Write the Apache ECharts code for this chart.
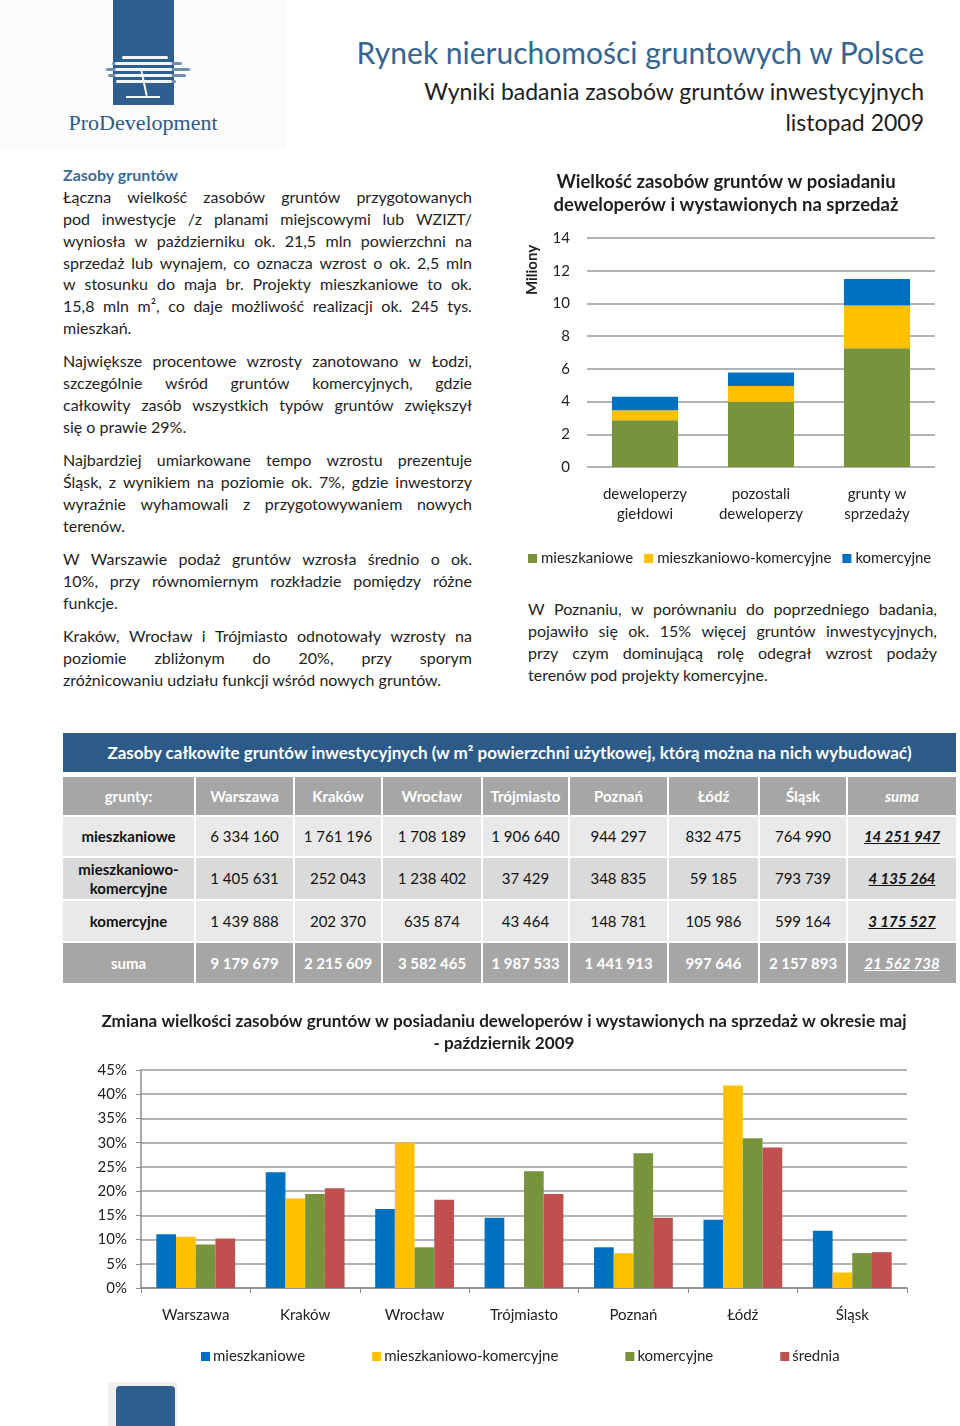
<!DOCTYPE html>
<html><head><meta charset="utf-8">
<script src="https://cdn.jsdelivr.net/npm/echarts/dist/echarts.min.js"></script>
<style>
body{margin:0;width:960px;height:1426px;position:relative;background:#fff;font-family:Lato,'Open Sans',sans-serif;overflow:hidden;color:#1e1e1e}
.abs{position:absolute}
.ln{position:absolute;height:22px;line-height:22px;font-size:16px;white-space:nowrap;color:#1e1e1e}
.jl{display:flex;justify-content:space-between}
.cell{position:absolute;display:flex;align-items:center;justify-content:center;text-align:center;font-size:15px;line-height:19px;white-space:pre}
</style></head><body>
<div class="abs" style="left:0;top:0;width:286px;height:150px;background:#fbfbfb"></div>
<div id="logo"></div>
<div class="abs" style="right:36px;top:32px;font-size:30px;line-height:40px;color:#35658f;white-space:nowrap">Rynek nieruchomości gruntowych w Polsce</div>
<div class="abs" style="right:36px;top:75px;font-size:23px;line-height:32px;color:#1e1e1e;white-space:nowrap">Wyniki badania zasobów gruntów inwestycyjnych</div>
<div class="abs" style="right:36px;top:106px;font-size:23px;line-height:32px;color:#1e1e1e;white-space:nowrap">listopad 2009</div>
<div id="texts"></div>
<div id="table"></div>
<div id="chart1" class="abs" style="left:520px;top:160px;width:440px;height:420px"></div>
<div id="chart2" class="abs" style="left:60px;top:1000px;width:900px;height:380px"></div>
<div class="abs" style="left:108px;top:1382px;width:69px;height:44px;background:#f0f0f0"></div>
<div class="abs" style="left:116px;top:1386px;width:59px;height:44px;background:#2e5f8e;border-radius:4px"></div>
<script>
// ---------- data ----------
const stackCategories = ['deweloperzy\ngiełdowi', 'pozostali\ndeweloperzy', 'grunty w\nsprzedaży'];
const stackMieszkaniowe = [2.86, 3.99, 7.26];
const stackMieszkKomerc = [0.61, 0.96, 2.61];
const stackKomercyjne = [0.82, 0.83, 1.62];

const cities = ['Warszawa', 'Kraków', 'Wrocław', 'Trójmiasto', 'Poznań', 'Łódź', 'Śląsk'];
const changeMieszkaniowe = [11.1, 23.9, 16.3, 14.5, 8.4, 14.1, 11.8];
const changeMieszkKomerc = [10.6, 18.5, 30.0, 0, 7.2, 41.8, 3.2];
const changeKomercyjne = [9.0, 19.4, 8.4, 24.1, 27.8, 30.9, 7.2];
const changeSrednia = [10.2, 20.6, 18.2, 19.4, 14.5, 29.0, 7.4];

const tableTitle = 'Zasoby całkowite gruntów inwestycyjnych (w m² powierzchni użytkowej, którą można na nich wybudować)';
const tableHeaders = ['grunty:', 'Warszawa', 'Kraków', 'Wrocław', 'Trójmiasto', 'Poznań', 'Łódź', 'Śląsk', 'suma'];
const tableRowLabels = ['mieszkaniowe', 'mieszkaniowo-\nkomercyjne', 'komercyjne', 'suma'];
const tableMieszkaniowe = ['6 334 160', '1 761 196', '1 708 189', '1 906 640', '944 297', '832 475', '764 990', '14 251 947'];
const tableMieszkKomerc = ['1 405 631', '252 043', '1 238 402', '37 429', '348 835', '59 185', '793 739', '4 135 264'];
const tableKomercyjne = ['1 439 888', '202 370', '635 874', '43 464', '148 781', '105 986', '599 164', '3 175 527'];
const tableSuma = ['9 179 679', '2 215 609', '3 582 465', '1 987 533', '1 441 913', '997 646', '2 157 893', '21 562 738'];

const leftParagraphs = [
  ['Łączna wielkość zasobów gruntów przygotowanych',
   'pod inwestycje /z planami miejscowymi lub WZIZT/',
   'wyniosła w październiku ok. 21,5 mln powierzchni na',
   'sprzedaż lub wynajem, co oznacza wzrost o ok. 2,5 mln',
   'w stosunku do maja br. Projekty mieszkaniowe to ok.',
   '15,8 mln m², co daje możliwość realizacji ok. 245 tys.',
   'mieszkań.'],
  ['Największe procentowe wzrosty zanotowano w Łodzi,',
   'szczególnie wśród gruntów komercyjnych, gdzie',
   'całkowity zasób wszystkich typów gruntów zwiększył',
   'się o prawie 29%.'],
  ['Najbardziej umiarkowane tempo wzrostu prezentuje',
   'Śląsk, z wynikiem na poziomie ok. 7%, gdzie inwestorzy',
   'wyraźnie wyhamowali z przygotowywaniem nowych',
   'terenów.'],
  ['W Warszawie podaż gruntów wzrosła średnio o ok.',
   '10%, przy równomiernym rozkładzie pomiędzy różne',
   'funkcje.'],
  ['Kraków, Wrocław i Trójmiasto odnotowały wzrosty na',
   'poziomie zbliżonym do 20%, przy sporym',
   'zróżnicowaniu udziału funkcji wśród nowych gruntów.']
];
const leftParagraphTops = [197, 361, 460, 559, 636];
const rightParagraph = ['W Poznaniu, w porównaniu do poprzedniego badania,',
  'pojawiło się ok. 15% więcej gruntów inwestycyjnych,',
  'przy czym dominującą rolę odegrał wzrost podaży',
  'terenów pod projekty komercyjne.'];

// ---------- logo ----------
(function(){
  const L = document.getElementById('logo');
  let h = '<div class="abs" style="left:113px;top:0;width:61px;height:105px;background:#2e5f8e"></div>';
  const stripes = [[56,122,168],[62,112,182],[68,106,190],[74,108,186],[80,116,176]];
  stripes.forEach(s=>{
    h += `<div class="abs" style="left:${s[1]}px;top:${s[0]}px;width:${s[2]-s[1]}px;height:3px;border-radius:2px;background:#6f8fb0"></div>`;
    h += `<div class="abs" style="left:${Math.max(s[1],115)}px;top:${s[0]}px;width:${Math.min(s[2],172)-Math.max(s[1],115)}px;height:3px;border-radius:2px;background:#f2f5f8"></div>`;
  });
  h += '<div class="abs" style="left:143px;top:70px;width:2px;height:26px;background:#f2f5f8;transform:rotate(-12deg)"></div>';
  h += '<div class="abs" style="left:126px;top:96px;width:34px;height:2px;background:#f2f5f8"></div>';
  h += '<div class="abs" style="left:62px;top:108px;width:162px;text-align:center;font-family:\'Liberation Serif\',serif;font-size:22px;line-height:30px;color:#2e5a86;white-space:nowrap">ProDevelopment</div>';
  L.innerHTML = h;
})();

// ---------- paragraphs ----------
function esc(s){return s.replace(/&/g,'&amp;').replace(/</g,'&lt;');}
function para(lines, x, w, yFirst, step){
  let h='';
  lines.forEach((t,i)=>{
    const top = yFirst + i*step - 11;
    const last = i===lines.length-1;
    if(last){
      h += `<div class="ln" style="left:${x}px;top:${top}px;">${esc(t)}</div>`;
    } else {
      h += `<div class="ln jl" style="left:${x}px;top:${top}px;width:${w}px">` + t.split(' ').map(wd=>`<span>${esc(wd)}</span>`).join('') + '</div>';
    }
  });
  return h;
}
(function(){
  let h = '<div class="ln" style="left:63px;top:164px;font-weight:700;color:#3b6b9b">Zasoby gruntów</div>';
  leftParagraphs.forEach((p,i)=>{ h += para(p, 63, 409, leftParagraphTops[i], 21.85); });
  h += para(rightParagraph, 528, 409, 609, 22);
  document.getElementById('texts').innerHTML = h;
})();

// ---------- table ----------
(function(){
  const colX = [63,196,295,383,483,570,669,760,848,958];
  const rowsY = [[777,815],[817,856],[858,899],[901,941],[943,983]];
  let h = `<div class="cell" style="left:63px;top:733px;width:893px;height:39px;background:#2d5b88;color:#fff;font-weight:700;font-size:17px">${tableTitle}</div>`;
  const rowBg = ['#a6a6a6','#e9e9e9','#dadada','#e9e9e9','#a6a6a6'];
  const dataRows = [tableMieszkaniowe, tableMieszkKomerc, tableKomercyjne, tableSuma];
  for(let r=0;r<5;r++){
    for(let c=0;c<9;c++){
      const x0=colX[c], x1=colX[c+1]-2;
      const y0=rowsY[r][0], y1=rowsY[r][1];
      let txt, st='';
      const white = (r===0||r===4);
      if(r===0){ txt = tableHeaders[c]; st='font-weight:700;'; if(c===8) st+='font-style:italic;'; }
      else if(c===0){ txt = tableRowLabels[r-1]; st='font-weight:700;'; }
      else { txt = dataRows[r-1][c-1]; if(r===4) st='font-weight:700;'; if(c===8) st='font-weight:700;font-style:italic;text-decoration:underline;'; }
      st += 'color:' + (white?'#fff':'#111') + ';';
      h += `<div class="cell" style="left:${x0}px;top:${y0}px;width:${x1-x0}px;height:${y1-y0}px;background:${rowBg[r]};${st}">${esc(txt)}</div>`;
    }
  }
  document.getElementById('table').innerHTML = h;
})();

// ---------- chart 1 ----------
const C_GREEN='#77933c', C_YELLOW='#ffc000', C_BLUE='#0070c0', C_RED='#c0504d';
const ch1 = echarts.init(document.getElementById('chart1'), null, {renderer:'canvas'});
ch1.setOption({
  animation:false,
  textStyle:{fontFamily:'Lato'},
  title:{text:'Wielkość zasobów gruntów w posiadaniu\ndeweloperów i wystawionych na sprzedaż', left:201, textAlign:'center', top:6,
    textStyle:{fontSize:18.5, fontWeight:'bold', color:'#1e1e1e', lineHeight:23, fontFamily:'Lato'}},
  grid:{left:67, right:25, top:78, bottom:113},
  xAxis:{type:'category', data:stackCategories, axisLine:{show:false}, axisTick:{show:false},
    axisLabel:{fontSize:15, color:'#222', lineHeight:20, margin:17}},
  yAxis:{type:'value', min:0, max:14, interval:2, axisLine:{show:false}, axisTick:{show:false},
    axisLabel:{fontSize:15, color:'#222', margin:17}, splitLine:{lineStyle:{color:'#9a9a9a', width:1.5}}},
  graphic:[{type:'text', x:12, y:110, rotation:Math.PI/2, style:{text:'Miliony', font:'bold 15px Lato', fill:'#1e1e1e', align:'center', verticalAlign:'middle'}}],
  legend:{left:8, top:391, padding:0, icon:'rect', itemWidth:9, itemHeight:9, itemGap:11, textStyle:{fontSize:15, color:'#222', padding:[0,0,0,-1]},
    data:['mieszkaniowe','mieszkaniowo-komercyjne','komercyjne']},
  series:[
    {name:'mieszkaniowe', type:'bar', stack:'s', barWidth:'57%', data:stackMieszkaniowe, itemStyle:{color:C_GREEN}},
    {name:'mieszkaniowo-komercyjne', type:'bar', stack:'s', data:stackMieszkKomerc, itemStyle:{color:C_YELLOW}},
    {name:'komercyjne', type:'bar', stack:'s', data:stackKomercyjne, itemStyle:{color:C_BLUE}}
  ]
});

// ---------- chart 2 ----------
const ch2 = echarts.init(document.getElementById('chart2'), null, {renderer:'canvas'});
ch2.setOption({
  animation:false,
  textStyle:{fontFamily:'Lato'},
  title:{text:'Zmiana wielkości zasobów gruntów w posiadaniu deweloperów i wystawionych na sprzedaż w okresie maj\n- październik 2009',
    left:439, textAlign:'center', top:5, textStyle:{fontSize:17.1, fontWeight:'bold', color:'#1e1e1e', lineHeight:22, fontFamily:'Lato'}},
  grid:{left:81, right:53, top:70, bottom:92},
  xAxis:{type:'category', data:cities, axisLine:{lineStyle:{color:'#8c8c8c', width:1.5}}, axisTick:{show:true, length:5, lineStyle:{color:'#8c8c8c'}},
    axisLabel:{fontSize:15, color:'#222', margin:20}},
  yAxis:{type:'value', min:0, max:45, interval:5, axisLine:{show:true, lineStyle:{color:'#8c8c8c', width:1.5}}, axisTick:{show:true, length:5, lineStyle:{color:'#8c8c8c'}},
    axisLabel:{fontSize:15, color:'#222', margin:14, formatter:'{value}%'}, splitLine:{lineStyle:{color:'#9a9a9a', width:1.5}}},
  legend:{left:141, top:349, padding:0, icon:'rect', itemWidth:9, itemHeight:9, itemGap:67, textStyle:{fontSize:15, color:'#222', padding:[0,0,0,-2]},
    data:['mieszkaniowe','mieszkaniowo-komercyjne','komercyjne','średnia']},
  series:[
    {name:'mieszkaniowe', type:'bar', barGap:'0%', barCategoryGap:'28%', data:changeMieszkaniowe, itemStyle:{color:C_BLUE}},
    {name:'mieszkaniowo-komercyjne', type:'bar', data:changeMieszkKomerc, itemStyle:{color:C_YELLOW}},
    {name:'komercyjne', type:'bar', data:changeKomercyjne, itemStyle:{color:C_GREEN}},
    {name:'średnia', type:'bar', data:changeSrednia, itemStyle:{color:C_RED}}
  ]
});
</script>
</body></html>
